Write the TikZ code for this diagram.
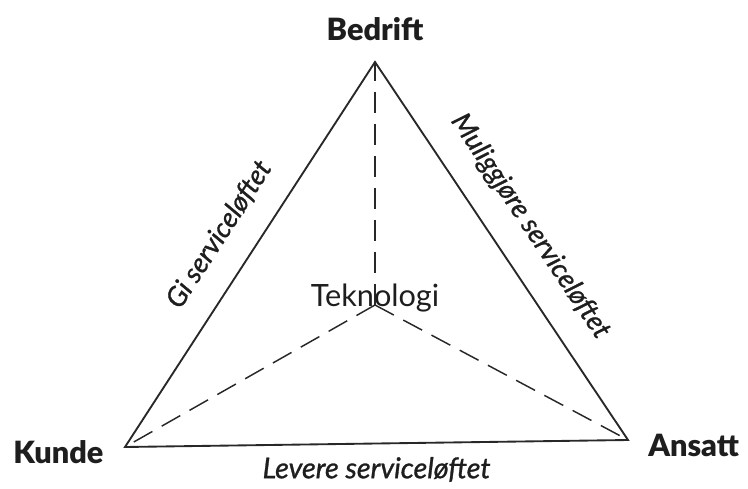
\documentclass[tikz,border=0pt]{standalone}
\usepackage{fontspec}
\setmainfont{Lato}[BoldFont={Lato Black}]
\newfontface\sideit{Lato Italic}[FakeBold=1]
\usetikzlibrary{positioning}
\definecolor{LineGray}{RGB}{40,40,40}
\definecolor{TextGray}{RGB}{30,30,30}
\tikzset{
  corner/.style={font=\fontsize{23}{26}\selectfont\bfseries,text=TextGray,inner sep=0pt},
  hub/.style={font=\fontsize{23}{26}\selectfont,text=TextGray,inner sep=0pt},
  edgelabel/.style={font=\fontsize{21.5}{24}\sideit,text=TextGray,inner sep=0pt},
  slopelabel/.style={edgelabel,font=\fontsize{20.5}{24}\sideit,sloped},
  side/.style={line width=1.4pt,LineGray,line join=miter},
  spoke/.style={line width=1.1pt,LineGray,dash pattern=on 16pt off 8pt}
}
\begin{document}
\begin{tikzpicture}[x=0.75pt,y=-0.75pt]
  \useasboundingbox (0,0) rectangle (748,488);
  % corners of the triangle and the centre
  \coordinate (bedrift) at (375,62);
  \coordinate (kunde) at (125,447);
  \coordinate (ansatt) at (628,440);
  \coordinate (tek) at (375,305);
  % corner labels
  \node[corner,above=16pt of bedrift] (lbedrift) {Bedrift};
  \node[corner,left=16pt of kunde,yshift=-4pt] (lkunde) {Kunde};
  \node[corner,right=15pt of ansatt,yshift=-4pt] (lansatt) {Ansatt};
  % dashed lines to the centre
  \draw[spoke] (tek) -- (bedrift);
  \draw[spoke] (tek) -- (kunde);
  \draw[spoke] (tek) -- (ansatt);
  \node[hub,anchor=base,yshift=-1pt] (ltek) at (tek) {Teknologi};
  % the three sides
  \draw[side] (kunde) -- node[slopelabel,above=18pt,pos=0.5] {Gi serviceløftet} (bedrift)
    -- node[slopelabel,above=18pt,pos=0.49] {Muliggjøre serviceløftet} (ansatt) -- cycle;
  \path (kunde) -- node[edgelabel,below=10pt,pos=0.5] (llevere) {Levere serviceløftet} (ansatt);
\end{tikzpicture}
\end{document}
